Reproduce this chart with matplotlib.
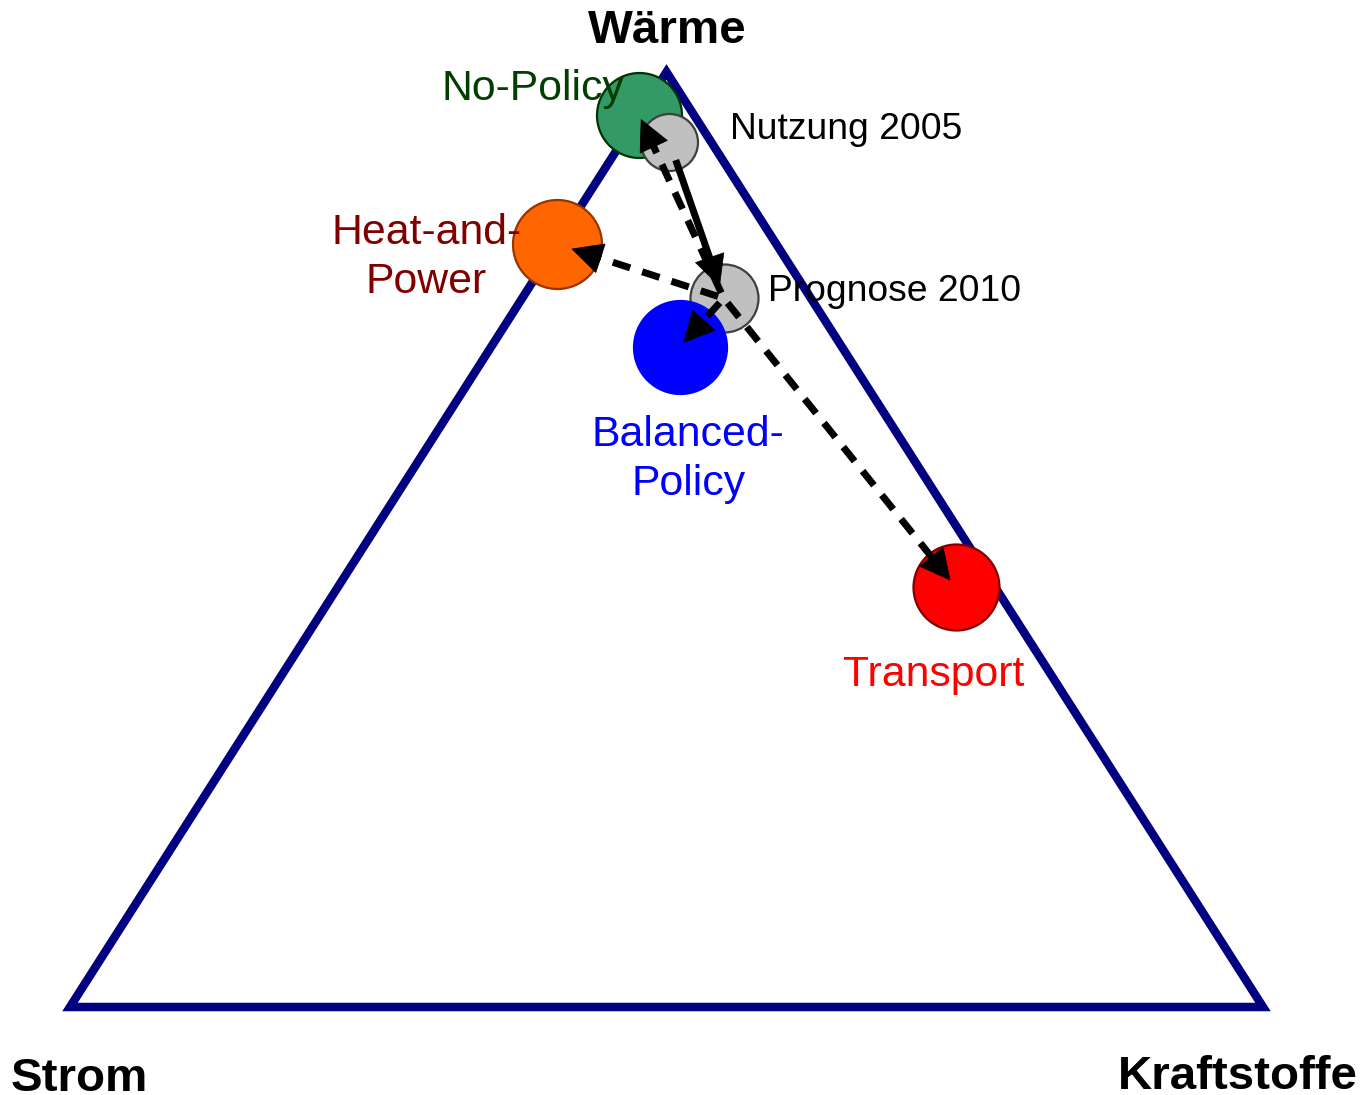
import matplotlib
matplotlib.use('Agg')
import numpy as np
import matplotlib.pyplot as plt
from matplotlib.patches import Polygon

plt.rcParams['font.family'] = ['Liberation Sans', 'DejaVu Sans']

# ---- data (shares in %) ----
corner_labels = ['Strom', 'Kraftstoffe', 'Wärme']
scenarios = ['Nutzung 2005', 'Prognose 2010', 'No-Policy', 'Heat-and-\nPower',
             'Balanced-\nPolicy', 'Transport']
waerme = [92.5, 75.8, 95.4, 81.6, 70.6, 44.9]
strom = [3.5, 7.3, 4.6, 18.4, 13.6, 3.3]
kraftstoffe = [4.0, 16.9, 0.0, 0.0, 15.8, 51.8]
arrow_from = ['Nutzung 2005', 'Prognose 2010', 'Prognose 2010', 'Prognose 2010', 'Prognose 2010']
arrow_to = ['Prognose 2010', 'No-Policy', 'Heat-and-\nPower', 'Balanced-\nPolicy', 'Transport']


def tern(w, s, k):
    tot = w + s + k
    w, k = w / tot, k / tot
    return k + 0.5 * w, w


# ---- styles ----
PX = 0.72  # points per pixel at dpi 100
styles = {
    'Nutzung 2005': dict(fc='#C0C0C0', ec='#404040', r=28.5, tc='black', fs=26.8,
                         off=(61, 3), ha='left'),
    'Prognose 2010': dict(fc='#C0C0C0', ec='#404040', r=34, tc='black', fs=26.8,
                          off=(44, -3), ha='left'),
    'No-Policy': dict(fc='#339966', ec='#003300', r=42.5, tc='#003F00', fs=30.8,
                      off=(-106.5, 15.5), ha='center'),
    'Heat-and-\nPower': dict(fc='#FF6600', ec='#993300', r=44.5, tc='#800000', fs=30.8,
                             off=(-130.5, -49), ha='center'),
    'Balanced-\nPolicy': dict(fc='#0000FF', ec='#0000FF', r=46.5, tc='#0000FF', fs=30.8,
                              off=(8.5, -148), ha='center'),
    'Transport': dict(fc='#FF0000', ec='#800000', r=43, tc='#FF0000', fs=30.8,
                      off=(-22, -99), ha='center'),
}
arrow_solid = [True, False, False, False, False]
shrinkA = [19, 6, 6, 6, 6]        # px
shrinkB = [13, 5, 16, 6, 9]       # px
HEAD_LEN, HEAD_W = 30.0, 30.0     # px
ARROW_LW = 7.0                    # px

fig = plt.figure(figsize=(13.63, 10.95), dpi=100)
ax = fig.add_axes([0, 0, 1, 1])
ax.set_xlim(-70 / 1193, 1293 / 1193)
ax.set_ylim((1007 - 1095) / 935, 1007 / 935)
ax.axis('off')

# triangle
verts = [tern(0, 1, 0), tern(0, 0, 1), tern(1, 0, 0)]
ax.add_patch(Polygon(verts, closed=True, fill=False, ec='#000080', lw=8.5 * PX,
                     joinstyle='miter', zorder=1))

# corner labels
corner_offsets = [(9, -84), (-25.5, -82), (1, 29)]
for lab, v, off in zip(corner_labels, verts, corner_offsets):
    ax.annotate(lab, xy=v, xytext=(off[0] * PX, off[1] * PX), textcoords='offset points',
                ha='center', va='baseline', fontsize=34.2, fontweight='bold', color='black')

# points
pos = {}
order = ['No-Policy', 'Nutzung 2005', 'Heat-and-\nPower', 'Prognose 2010',
         'Balanced-\nPolicy', 'Transport']
for name, w, s, k in zip(scenarios, waerme, strom, kraftstoffe):
    pos[name] = tern(w, s, k)
for z, name in enumerate(order):
    st = styles[name]
    x, y = pos[name]
    ax.scatter([x], [y], s=(2 * st['r'] * PX) ** 2, c=st['fc'], edgecolors=st['ec'],
               linewidths=1.6, zorder=3 + z)

# arrows (computed in display pixels, drawn back in data coords)
to_disp = ax.transData.transform
to_data = ax.transData.inverted().transform
for i, (a, b) in enumerate(zip(arrow_from, arrow_to)):
    p0 = to_disp(pos[a])
    p1 = to_disp(pos[b])
    u = (p1 - p0) / np.hypot(*(p1 - p0))
    n = np.array([-u[1], u[0]])
    tail = p0 + u * shrinkA[i]
    tip = p1 - u * shrinkB[i]
    base = tip - u * HEAD_LEN
    line = to_data(np.vstack([tail, base + u * 2]))
    if arrow_solid[i]:
        ax.plot(line[:, 0], line[:, 1], color='black', lw=ARROW_LW * PX,
                solid_capstyle='butt', zorder=20)
    else:
        ax.plot(line[:, 0], line[:, 1], color='black', lw=ARROW_LW * PX,
                ls=(0, (2.6, 1.8)), dash_capstyle='butt', zorder=20)
    head = to_data(np.vstack([tip, base + n * HEAD_W / 2, base - n * HEAD_W / 2]))
    ax.add_patch(Polygon(head, closed=True, fc='black', ec='black', lw=0.5, zorder=21))

# scenario labels
for name in scenarios:
    st = styles[name]
    ax.annotate(name, xy=pos[name], xytext=(st['off'][0] * PX, st['off'][1] * PX),
                textcoords='offset points', ha=st['ha'], va='baseline',
                multialignment='center', fontsize=st['fs'], color=st['tc'],
                linespacing=1.3, zorder=30)

fig.savefig('out.png', dpi=100)
